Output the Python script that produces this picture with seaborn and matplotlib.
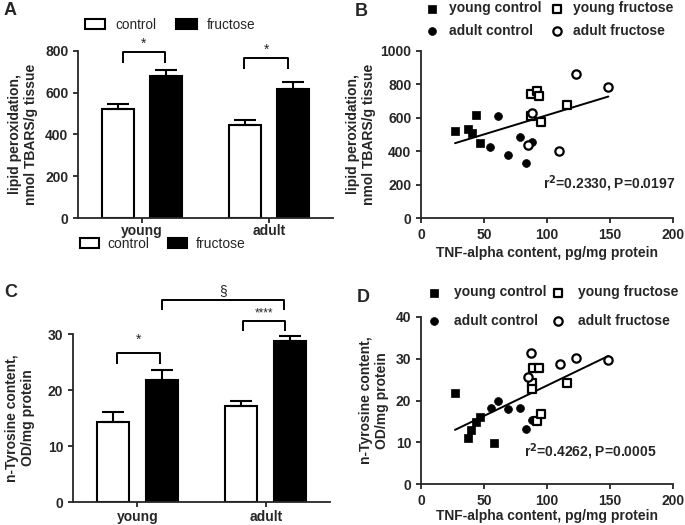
import numpy as np
import pandas as pd
import matplotlib
matplotlib.use('Agg')
import matplotlib.pyplot as plt
import seaborn as sns

# ---- datos ----
ages = ['young', 'adult']
groups = ['control', 'fructose']

tbars_control = [522, 447]
tbars_control_sem = [26, 23]
tbars_fructose = [680, 620]
tbars_fructose_sem = [30, 30]

tyr_control = [14.3, 17.1]
tyr_control_sem = [1.8, 1.0]
tyr_fructose = [21.7, 28.8]
tyr_fructose_sem = [1.9, 0.8]

# panel B (TNF-alpha vs TBARS)
b_yc_x = [27, 37, 40.7, 44, 46.8]
b_yc_y = [521, 531, 511, 614, 451]
b_ac_x = [55, 61, 68.7, 78.5, 83.7, 88]
b_ac_y = [425, 612, 378, 483, 332, 457]
b_yf_x = [87.5, 91.7, 93.5, 95, 115.5, 87]
b_yf_y = [740, 761, 732, 573, 674, 612]
b_af_x = [123, 148.7, 109.6, 85, 87.7]
b_af_y = [861, 785, 404, 437, 626]

# panel D (TNF-alpha vs n-Tyrosine)
d_yc_x = [27, 37, 40, 44, 46.8, 57.9]
d_yc_y = [21.9, 10.9, 13.0, 14.8, 16.0, 9.9]
d_ac_x = [55.5, 61, 68.7, 78.5, 83.7, 87.7]
d_ac_y = [18.3, 20.0, 17.9, 18.3, 13.1, 15.3]
d_yf_x = [88, 88, 89, 93.8, 91.7, 95, 115.5]
d_yf_y = [24.3, 22.7, 27.7, 27.7, 15.2, 16.7, 24.3]
d_af_x = [87.2, 85.3, 110, 123, 148.7]
d_af_y = [31.4, 25.7, 28.7, 30.1, 29.8]

sns.set_theme(style='ticks')
plt.rcParams['font.family'] = ['Liberation Sans', 'DejaVu Sans']
plt.rcParams['font.weight'] = 'bold'
plt.rcParams['axes.labelweight'] = 'bold'
plt.rcParams['axes.linewidth'] = 1.3
plt.rcParams['xtick.major.width'] = 1.3
plt.rcParams['ytick.major.width'] = 1.3
plt.rcParams['xtick.major.size'] = 3.5
plt.rcParams['ytick.major.size'] = 3.5
plt.rcParams['xtick.labelsize'] = 10
plt.rcParams['ytick.labelsize'] = 10
plt.rcParams['axes.labelsize'] = 10

W, H = 685, 525
fig = plt.figure(figsize=(W / 100, H / 100), dpi=100)


def rect(x0, y0, x1, y1):
    # pixel box -> figure fraction
    return [x0 / W, 1 - y1 / H, (x1 - x0) / W, (y1 - y0) / H]


ax_a = fig.add_axes(rect(78, 51, 333, 218))
ax_b = fig.add_axes(rect(421, 51, 673, 218))
ax_c = fig.add_axes(rect(73, 334, 330, 502))
ax_d = fig.add_axes(rect(421, 317, 673, 484))

pal = {'control': 'white', 'fructose': 'black'}


def bar_panel(ax, ctrl, ctrl_sem, fru, fru_sem, xpad=2):
    df = pd.DataFrame({
        'age': ages * 2,
        'group': ['control'] * 2 + ['fructose'] * 2,
        'value': list(ctrl) + list(fru),
    })
    sns.barplot(data=df, x='age', y='value', hue='group', order=ages,
                hue_order=groups, palette=pal, edgecolor='black',
                linewidth=1.5, width=0.76, gap=0.34, errorbar=None, ax=ax)
    centers = {}
    for cont, sem, g in zip(ax.containers, [ctrl_sem, fru_sem], groups):
        xs = [p.get_x() + p.get_width() / 2 for p in cont]
        ys = [p.get_height() for p in cont]
        ax.errorbar(xs, ys, yerr=[np.zeros(len(sem)), sem], fmt='none',
                    ecolor='black', elinewidth=1.5, capsize=8, capthick=1.5,
                    zorder=1)
        centers[g] = xs
    handles, labels = ax.get_legend_handles_labels()
    if ax.get_legend() is not None:
        ax.get_legend().remove()
    sns.despine(ax=ax)
    ax.set_xlabel('')
    ax.set_ylabel('')
    ax.set_xlim(-0.5, 1.5)
    ax.tick_params(axis='x', length=3.5, pad=xpad)
    for t in ax.get_xticklabels() + ax.get_yticklabels():
        t.set_fontweight('bold')
    return centers, handles, labels


def bracket(ax, x1, x2, y_top, y_leg, text, ty, fs=10):
    ax.plot([x1, x1, x2, x2], [y_leg, y_top, y_top, y_leg], color='black',
            lw=1.4, clip_on=False, solid_capstyle='butt')
    ax.text((x1 + x2) / 2, ty, text, ha='center', va='center',
            fontsize=fs, fontweight='normal', clip_on=False)


# ---- panel A ----
cen, handles, labels = bar_panel(ax_a, tbars_control, tbars_control_sem,
                                 tbars_fructose, tbars_fructose_sem, xpad=0.5)
ax_a.set_ylim(0, 800)
ax_a.set_yticks([0, 200, 400, 600, 800])
ax_a.set_ylabel('lipid peroxidation,\nnmol TBARS/g tissue', labelpad=5)
bracket(ax_a, cen['control'][0] + 0.04, cen['fructose'][0] - 0.01, 795, 743, '*', 835)
bracket(ax_a, cen['control'][1] - 0.01, cen['fructose'][1] - 0.04, 766, 716, '*', 805)

leg1 = fig.legend(handles, labels, loc='center left',
                  bbox_to_anchor=(85 / W, 1 - 25 / H), ncol=2, frameon=False,
                  prop={'size': 9.8, 'weight': 'normal'}, handlelength=1.5,
                  handleheight=0.75, handletextpad=0.7, columnspacing=1.5,
                  borderpad=0, borderaxespad=0)
leg2 = fig.legend(handles, labels, loc='center left',
                  bbox_to_anchor=(80 / W, 1 - 244 / H), ncol=2, frameon=False,
                  prop={'size': 10, 'weight': 'normal'}, handlelength=1.35,
                  handleheight=0.75, handletextpad=0.65, columnspacing=1.3,
                  borderpad=0, borderaxespad=0)
for lg in (leg1, leg2):
    for h in lg.legend_handles:
        h.set_edgecolor('black')
        h.set_linewidth(1.5)

# ---- panel C ----
cen, _, _ = bar_panel(ax_c, tyr_control, tyr_control_sem,
                      tyr_fructose, tyr_fructose_sem)
ax_c.set_ylim(0, 30)
ax_c.set_yticks([0, 10, 20, 30])
ax_c.set_ylabel('n-Tyrosine content,\nOD/mg protein', labelpad=9)
bracket(ax_c, cen['control'][0] + 0.03, cen['fructose'][0] - 0.01, 26.6, 24.6, '*', 28.9)
bracket(ax_c, cen['control'][1] + 0.01, cen['fructose'][1] - 0.04, 32.3, 30.6, '****', 33.6, fs=8.5)
bracket(ax_c, cen['fructose'][0], cen['fructose'][1] - 0.05, 36.0, 34.3, '§', 37.6)


# ---- scatter panels ----
def scatter_panel(ax, sets, annot, ax_xy, lpad):
    all_x = np.concatenate([s[0] for s in sets])
    all_y = np.concatenate([s[1] for s in sets])
    sns.regplot(x=all_x, y=all_y, scatter=False, ci=None, color='black',
                line_kws={'lw': 1.4, 'zorder': 2}, ax=ax)
    styles = [('young control', 's', 'black'),
              ('adult control', 'o', 'black'),
              ('young fructose', 's', 'white'),
              ('adult fructose', 'o', 'white')]
    for (xs, ys), (lab, mk, fc) in zip(sets, styles):
        sns.scatterplot(x=xs, y=ys, marker=mk, color=fc, edgecolor='black',
                        linewidth=1.6 if fc == 'white' else 0.5,
                        s=36 if fc == 'white' else 32, label=lab, ax=ax,
                        zorder=3, clip_on=False)
    sns.despine(ax=ax)
    ax.set_xlim(0, 200)
    ax.set_xticks([0, 50, 100, 150, 200])
    ax.set_xlabel('TNF-alpha content, pg/mg protein', labelpad=lpad)
    ax.text(ax_xy[0], ax_xy[1], annot, fontsize=10, fontweight='bold',
            ha='left', va='center')
    handles, labels = ax.get_legend_handles_labels()
    ax.get_legend().remove()
    for t in ax.get_xticklabels() + ax.get_yticklabels():
        t.set_fontweight('bold')
    return handles, labels


hb, lb = scatter_panel(ax_b, [(b_yc_x, b_yc_y), (b_ac_x, b_ac_y),
                              (b_yf_x, b_yf_y), (b_af_x, b_af_y)],
                       r'r$^\mathbf{2}$=0.2330, P=0.0197', (97, 205), 3)
ax_b.set_ylim(0, 1000)
ax_b.set_yticks([0, 200, 400, 600, 800, 1000])
ax_b.set_ylabel('lipid peroxidation,\nnmol TBARS/g tissue', labelpad=3)
fig.legend(hb, lb, loc='upper left', bbox_to_anchor=(424 / W, 1 - 0 / H),
           ncol=2, frameon=False, prop={'size': 10, 'weight': 'bold'},
           handlelength=1.0, handletextpad=0.7, columnspacing=0.6,
           labelspacing=0.6, borderpad=0.1, borderaxespad=0)

hd, ld = scatter_panel(ax_d, [(d_yc_x, d_yc_y), (d_ac_x, d_ac_y),
                              (d_yf_x, d_yf_y), (d_af_x, d_af_y)],
                       r'r$^\mathbf{2}$=0.4262, P=0.0005', (82, 7.8), 1)
ax_d.set_ylim(0, 40)
ax_d.set_yticks([0, 10, 20, 30, 40])
ax_d.set_ylabel('n-Tyrosine content,\nOD/mg protein', labelpad=5)
fig.legend(hd, ld, loc='upper left', bbox_to_anchor=(426 / W, 1 - 284 / H),
           ncol=2, frameon=False, prop={'size': 10, 'weight': 'bold'},
           handlelength=1.0, handletextpad=0.95, columnspacing=0.3,
           labelspacing=1.05, borderpad=0.1, borderaxespad=0)

# letras de panel
for lab, x, y in [('A', 4, 2), ('B', 355, 3), ('C', 4, 284), ('D', 357, 289)]:
    fig.text(x / W, 1 - y / H, lab, fontsize=13, fontweight='bold',
             ha='left', va='top')

fig.savefig('out.png', dpi=100)
